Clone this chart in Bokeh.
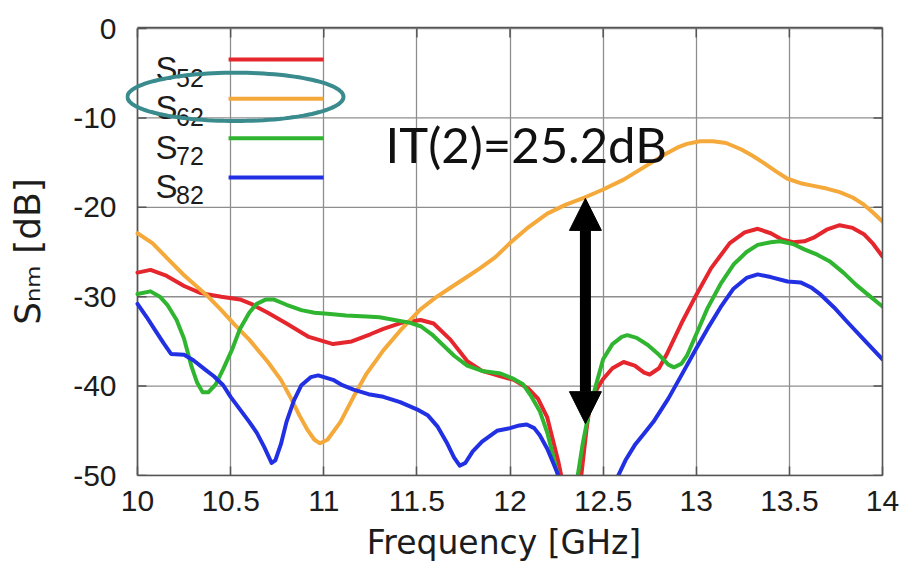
import numpy as np
from bokeh.plotting import figure
from bokeh.models import (Range1d, LinearAxis, FixedTicker, Label, Arrow, NormalHead,
                          PolyAnnotation)
from bokeh.embed import file_html
from bokeh.resources import INLINE

# ---- data -------------------------------------------------------------
x_ticks = [10, 10.5, 11, 11.5, 12, 12.5, 13, 13.5, 14]
x_tick_labels = ["10", "10.5", "11", "11.5", "12", "12.5", "13", "13.5", "14"]
y_ticks = [0, -10, -20, -30, -40, -50]
y_tick_labels = ["0", "-10", "-20", "-30", "-40", "-50"]

series_names = ["52", "62", "72", "82"]
series_colors = ["#e5262d", "#f4a93a", "#2fb52f", "#2230e4"]

freq_s52 = [10.00, 10.07, 10.15, 10.25, 10.34, 10.45, 10.55, 10.61, 10.70, 10.80,
            10.92, 11.05, 11.15, 11.25, 11.32, 11.42, 11.52, 11.59, 11.68, 11.77,
            11.85, 11.95, 12.02, 12.10, 12.15, 12.20, 12.23, 12.26, 12.28, 12.32,
            12.36, 12.38, 12.41, 12.43, 12.47, 12.50, 12.55, 12.61, 12.67, 12.72,
            12.75, 12.80, 12.84, 12.92, 13.00, 13.08, 13.18, 13.26, 13.33, 13.40,
            13.46, 13.52, 13.58, 13.63, 13.70, 13.77, 13.84, 13.90, 13.95, 14.00]
s52 = [-27.3, -27.0, -27.6, -28.8, -29.6, -30.0, -30.3, -30.8, -31.8, -33.0,
       -34.5, -35.3, -35.0, -34.2, -33.6, -32.9, -32.6, -33.0, -34.8, -37.2,
       -38.3, -38.9, -39.3, -40.3, -41.4, -43.5, -46.0, -48.5, -50.5, -58.0,
       -55.0, -50.5, -45.0, -42.0, -40.2, -39.2, -38.0, -37.3, -37.7, -38.5,
       -38.7, -38.0, -36.5, -33.0, -29.8, -26.8, -24.0, -22.8, -22.4, -22.9,
       -23.6, -23.9, -23.8, -23.4, -22.5, -22.0, -22.3, -23.0, -24.1, -25.5]

freq_s62 = [10.00, 10.08, 10.16, 10.25, 10.37, 10.45, 10.52, 10.60, 10.70, 10.77,
            10.82, 10.87, 10.91, 10.95, 10.98, 11.02, 11.09, 11.16, 11.23, 11.32,
            11.41, 11.52, 11.60, 11.68, 11.76, 11.84, 11.92, 12.00, 12.10, 12.20,
            12.30, 12.40, 12.50, 12.61, 12.72, 12.83, 12.90, 12.95, 13.02, 13.09,
            13.16, 13.24, 13.30, 13.36, 13.43, 13.49, 13.56, 13.63, 13.70, 13.77,
            13.84, 13.90, 13.95, 14.00]
s62 = [-22.9, -24.0, -25.7, -27.6, -29.8, -31.5, -33.1, -34.8, -37.3, -39.3,
       -41.2, -43.3, -44.8, -46.0, -46.4, -46.0, -44.0, -41.2, -38.6, -36.0,
       -33.8, -31.4, -30.1, -29.0, -27.9, -26.8, -25.6, -24.0, -22.2, -20.7,
       -19.7, -18.9, -18.0, -16.9, -15.5, -14.1, -13.3, -12.9, -12.6, -12.6,
       -12.8, -13.5, -14.2, -15.0, -16.0, -16.8, -17.3, -17.6, -17.9, -18.3,
       -18.9, -19.7, -20.6, -21.6]

freq_s72 = [10.00, 10.07, 10.12, 10.16, 10.21, 10.25, 10.29, 10.32, 10.35, 10.38,
            10.42, 10.46, 10.51, 10.55, 10.60, 10.64, 10.69, 10.73, 10.80, 10.88,
            10.95, 11.02, 11.12, 11.23, 11.30, 11.38, 11.46, 11.52, 11.58, 11.64,
            11.70, 11.77, 11.85, 11.95, 12.02, 12.07, 12.11, 12.16, 12.20, 12.24,
            12.27, 12.31, 12.34, 12.36, 12.39, 12.42, 12.46, 12.50, 12.55, 12.60,
            12.63, 12.68, 12.74, 12.80, 12.85, 12.88, 12.92, 12.95, 13.00, 13.06,
            13.13, 13.20, 13.27, 13.33, 13.40, 13.45, 13.52, 13.58, 13.65, 13.72,
            13.79, 13.86, 13.93, 14.00]
s72 = [-29.7, -29.4, -30.0, -30.9, -32.6, -34.7, -37.8, -39.6, -40.7, -40.7,
       -39.8, -38.1, -35.8, -33.6, -31.8, -30.8, -30.3, -30.3, -30.9, -31.5,
       -31.8, -31.9, -32.1, -32.2, -32.3, -32.6, -32.9, -33.3, -34.2, -35.4,
       -36.6, -37.7, -38.3, -38.6, -39.2, -39.8, -41.0, -42.8, -45.2, -48.5,
       -51.0, -58.0, -54.0, -50.5, -46.5, -43.3, -40.0, -37.0, -35.3, -34.5,
       -34.3, -34.6, -35.4, -36.5, -37.6, -37.9, -37.5, -36.6, -34.2, -31.3,
       -28.6, -26.4, -25.0, -24.2, -23.9, -23.8, -24.1, -24.7, -25.3, -26.1,
       -27.3, -28.7, -29.9, -31.1]

freq_s82 = [10.00, 10.05, 10.09, 10.14, 10.18, 10.25, 10.30, 10.36, 10.41, 10.46,
            10.50, 10.55, 10.60, 10.64, 10.68, 10.72, 10.74, 10.77, 10.80, 10.84,
            10.88, 10.93, 10.97, 11.05, 11.10, 11.16, 11.24, 11.32, 11.41, 11.50,
            11.56, 11.61, 11.66, 11.70, 11.73, 11.76, 11.80, 11.85, 11.93, 12.00,
            12.05, 12.09, 12.13, 12.16, 12.20, 12.23, 12.27, 12.32, 12.42, 12.52,
            12.57, 12.62, 12.67, 12.72, 12.77, 12.85, 12.92, 13.00, 13.06, 13.13,
            13.20, 13.27, 13.33, 13.40, 13.49, 13.56, 13.62, 13.67, 13.74, 13.81,
            13.90, 14.00]
s82 = [-30.8, -32.3, -33.6, -35.2, -36.4, -36.5, -37.1, -38.1, -38.9, -39.9,
       -41.2, -42.6, -44.0, -45.2, -46.8, -48.6, -48.3, -46.5, -44.0, -41.6,
       -39.9, -39.0, -38.8, -39.3, -39.9, -40.4, -40.9, -41.2, -41.8, -42.6,
       -43.3, -44.5, -46.3, -48.0, -48.9, -48.6, -47.3, -46.2, -45.0, -44.7,
       -44.4, -44.3, -44.7, -45.5, -47.0, -48.5, -50.5, -56.0, -62.0, -56.0,
       -50.5, -48.3, -46.6, -45.3, -44.0, -41.4, -38.8, -35.8, -33.6, -31.2,
       -29.1, -27.9, -27.5, -27.8, -28.3, -28.4, -29.0, -29.8, -31.2, -32.8,
       -34.8, -37.0]

# isolation annotation: measured at 12.4 GHz
it_freq = 12.405
it_top = -19.0
it_value = 25.2

freqs = [freq_s52, freq_s62, freq_s72, freq_s82]
values = [s52, s62, s72, s82]

# ---- geometry helpers ---------------------------------------------------
PX_PER_GHZ = 186.25          # horizontal scale of the plot frame
PX_PER_DB = 8.94             # vertical scale of the plot frame
LEFT_PAD_PX = 12             # room left of 10 GHz so the ring can overhang the box

TICK_FONT = "Liberation Sans"
LABEL_FONT = "DejaVu Sans"
INK = "#1c1c1c"
FRAME = "#555555"
GRID = "#8e8e8e"

x0 = 10 - LEFT_PAD_PX / PX_PER_GHZ
p = figure(width=908, height=568, output_backend="svg", toolbar_location=None,
           x_range=Range1d(x0, 14), y_range=Range1d(-50, 0.12),
           x_axis_location=None, y_axis_location=None,
           min_border_left=137 - LEFT_PAD_PX, min_border_right=26,
           min_border_top=27, min_border_bottom=93)
p.background_fill_color = "white"
p.border_fill_color = "white"
p.outline_line_color = None

# bottom axis: line, inward ticks and labels limited to the 10..14 GHz box
xaxis = LinearAxis(bounds=(10, 14))
xaxis.ticker = FixedTicker(ticks=x_ticks)
xaxis.major_label_overrides = {(int(t) if float(t).is_integer() else t): s
                               for t, s in zip(x_ticks, x_tick_labels)}
xaxis.major_tick_in = 9
xaxis.major_tick_out = 0
xaxis.minor_tick_line_color = None
xaxis.major_tick_line_color = FRAME
xaxis.major_tick_line_width = 1.5
xaxis.axis_line_color = FRAME
xaxis.axis_line_width = 1.6
xaxis.major_label_text_font = TICK_FONT
xaxis.major_label_text_font_size = "30px"
xaxis.major_label_text_color = INK
xaxis.major_label_standoff = 15
xaxis.axis_label = "Frequency [GHz]"
xaxis.axis_label_text_font = LABEL_FONT
xaxis.axis_label_text_font_size = "33px"
xaxis.axis_label_text_font_style = "normal"
xaxis.axis_label_text_color = INK
xaxis.axis_label_standoff = 9
p.add_layout(xaxis, "below")

# left axis: labels only (box edge and ticks are drawn at 10 GHz below)
yaxis = LinearAxis()
yaxis.ticker = FixedTicker(ticks=y_ticks)
yaxis.major_label_overrides = {t: s for t, s in zip(y_ticks, y_tick_labels)}
yaxis.major_tick_line_color = None
yaxis.minor_tick_line_color = None
yaxis.axis_line_color = None
yaxis.major_label_text_font = TICK_FONT
yaxis.major_label_text_font_size = "30px"
yaxis.major_label_text_color = INK
yaxis.major_label_standoff = 3
yaxis.axis_label = "S\u2099\u2098 [dB]"
yaxis.axis_label_text_font = LABEL_FONT
yaxis.axis_label_text_font_size = "36px"
yaxis.axis_label_text_font_style = "normal"
yaxis.axis_label_text_color = INK
yaxis.axis_label_standoff = 22
p.add_layout(yaxis, "left")

# top and right box edges
top_edge = LinearAxis(bounds=(10, 14), ticker=FixedTicker(ticks=[]),
                      axis_line_color=FRAME, axis_line_width=1.6,
                      major_tick_line_color=None, minor_tick_line_color=None)
p.add_layout(top_edge, "above")
right_edge = LinearAxis(ticker=FixedTicker(ticks=[]),
                        axis_line_color=FRAME, axis_line_width=1.6,
                        major_tick_line_color=None, minor_tick_line_color=None)
p.add_layout(right_edge, "right")

# grid
p.xgrid.ticker = FixedTicker(ticks=x_ticks)
p.xgrid.grid_line_color = GRID
p.xgrid.grid_line_width = 1.3
p.ygrid.grid_line_color = None
p.segment(x0=[10] * len(y_ticks), x1=[14] * len(y_ticks), y0=y_ticks, y1=y_ticks,
          line_color=GRID, line_width=1.3)

# left box edge and inward ticks on the left, top and right sides
p.segment(x0=[10], x1=[10], y0=[-50], y1=[0], line_color=FRAME, line_width=1.6)
tick_dx = 9 / PX_PER_GHZ
tick_dy = 9 / PX_PER_DB
p.segment(x0=[10] * len(y_ticks), x1=[10 + tick_dx] * len(y_ticks), y0=y_ticks, y1=y_ticks,
          line_color=FRAME, line_width=1.5)
p.segment(x0=[14] * len(y_ticks), x1=[14 - tick_dx] * len(y_ticks), y0=y_ticks, y1=y_ticks,
          line_color=FRAME, line_width=1.5)
p.segment(x0=x_ticks, x1=x_ticks, y0=[0] * len(x_ticks), y1=[-tick_dy] * len(x_ticks),
          line_color=FRAME, line_width=1.5)

# ---- curves -----------------------------------------------------------
for f, v, c in zip(freqs, values, series_colors):
    p.line(f, v, line_color=c, line_width=4, line_join="round", line_cap="round")

# ---- legend (label on the left, sample line on the right) ------------
row_px = 39.3
for i, (name, c) in enumerate(zip(series_names, series_colors)):
    y_base = -(40 + row_px * i) / PX_PER_DB
    p.add_layout(Label(x=10.097, y=y_base, text="S", text_font=TICK_FONT,
                       text_font_size="33px", text_color=INK,
                       text_baseline="alphabetic"))
    p.add_layout(Label(x=10.207, y=y_base - 9 / PX_PER_DB, text=name, text_font=TICK_FONT,
                       text_font_size="25px", text_color=INK,
                       text_baseline="alphabetic"))
    y_line = -(31 + row_px * i) / PX_PER_DB
    p.segment(x0=[10.489], y0=[y_line], x1=[10.999], y1=[y_line],
              line_color=c, line_width=4)

# ---- highlight ring around the S62 legend entry -----------------------
t = np.linspace(0, 2 * np.pi, 121)
cx, cy, ax_, by_ = 10.526, -7.64, 0.58, 2.70
p.add_layout(PolyAnnotation(xs=list(cx + ax_ * np.cos(t)), ys=list(cy + by_ * np.sin(t)),
                            fill_color=None, fill_alpha=0,
                            line_color="#3a8b8d", line_alpha=1.0, line_width=4))

# ---- isolation arrow and label ----------------------------------------
head_kw = dict(size=32, fill_color="black", line_color="black", line_width=1)
p.add_layout(Arrow(start=NormalHead(**head_kw), end=NormalHead(**head_kw),
                   x_start=it_freq, y_start=it_top - it_value,
                   x_end=it_freq, y_end=it_top,
                   line_color="black", line_width=11))
p.add_layout(Label(x=11.332, y=-12.9, text=f"IT(2)={it_value}dB",
                   text_font="Lato", text_font_size="49px", text_color="#111111",
                   text_baseline="alphabetic"))

open("out.html", "w").write(file_html(p, INLINE))
